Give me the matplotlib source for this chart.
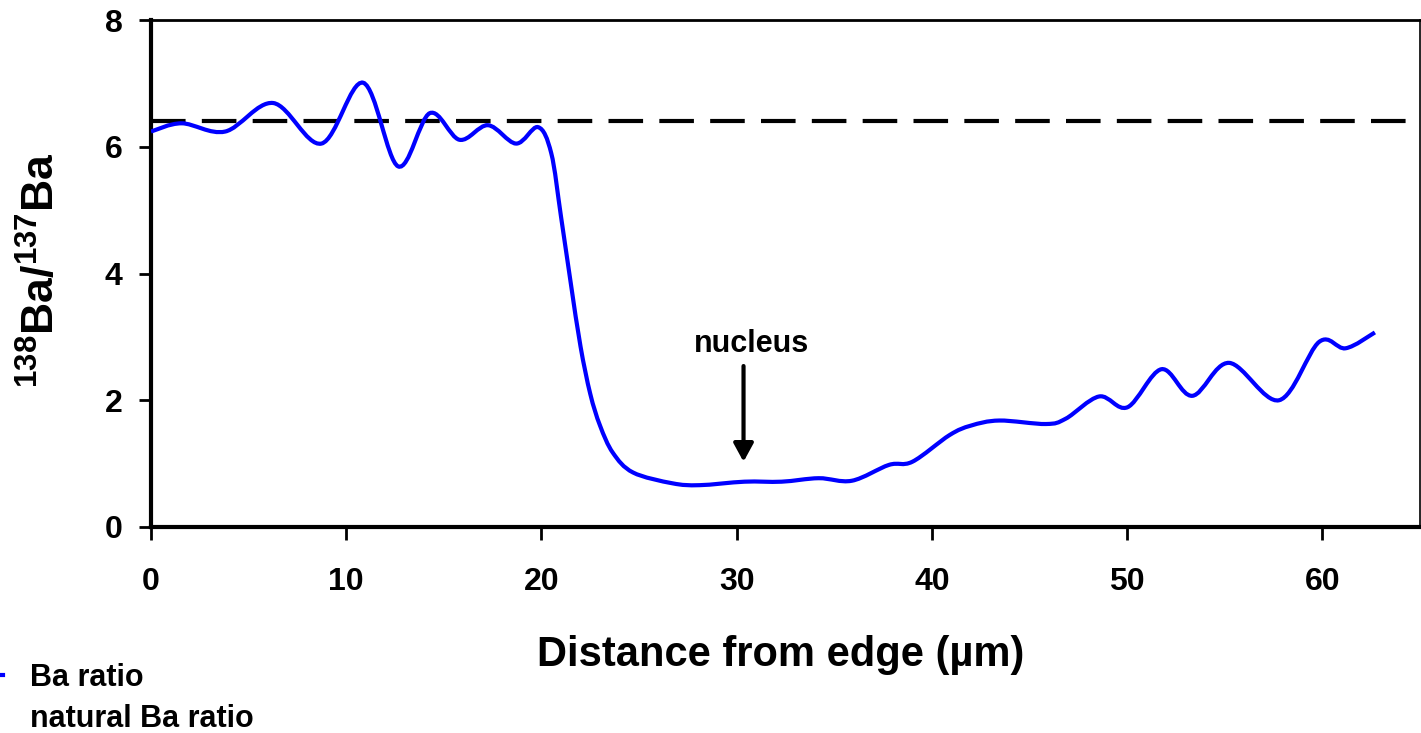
import numpy as np
import matplotlib
matplotlib.use('Agg')
import matplotlib.pyplot as plt
from matplotlib.path import Path
from matplotlib.patches import PathPatch
from matplotlib.lines import Line2D

# ---- data ----
distance = [0.0, 1.57, 3.8, 6.26, 8.73, 10.87, 12.66, 14.28, 15.8, 17.26, 18.7, 19.82,
            20.5, 21.0, 21.5, 22.0, 22.5, 23.0, 23.66, 24.69, 26.7, 28.1,
            30.4, 32.3, 34.2, 35.9, 37.8, 39.0, 40.9, 42.0, 43.45, 45.84, 46.86,
            48.57, 50.02, 51.76, 53.34, 55.22, 57.78, 59.83, 61.19, 62.69]
ba_ratio = [6.24, 6.37, 6.24, 6.69, 6.05, 7.01, 5.69, 6.53, 6.11, 6.34, 6.05, 6.31,
            5.9, 4.9, 3.85, 2.85, 2.1, 1.6, 1.17, 0.86, 0.69, 0.66,
            0.715, 0.715, 0.77, 0.73, 0.98, 1.03, 1.45, 1.60, 1.68, 1.625, 1.71,
            2.06, 1.89, 2.49, 2.07, 2.59, 2.00, 2.92, 2.82, 3.07]
natural_ratio = 6.4
x_ticks = [0, 10, 20, 30, 40, 50, 60]
y_ticks = [0, 2, 4, 6, 8]
series_labels = ['Ba ratio', 'natural Ba ratio']
nucleus_x = 30.35
nucleus_label = 'nucleus'

plt.rcParams['font.family'] = ['Liberation Sans', 'DejaVu Sans']
plt.rcParams['font.weight'] = 'bold'
plt.rcParams['mathtext.fontset'] = 'custom'
plt.rcParams['mathtext.rm'] = 'Liberation Sans:bold'
plt.rcParams['mathtext.bf'] = 'Liberation Sans:bold'
plt.rcParams['mathtext.it'] = 'Liberation Sans:bold'

W, H = 1421, 733
fig = plt.figure(figsize=(W / 100, H / 100), dpi=100)
ax = fig.add_axes([151 / W, 1 - 527 / H, (1420 - 151) / W, (527 - 20) / H])


def smooth_path(x, y):
    pts = np.column_stack([x, y]).astype(float)
    n = len(pts)
    verts = [pts[0]]
    codes = [Path.MOVETO]
    for i in range(n - 1):
        p0 = pts[max(i - 1, 0)]
        p1 = pts[i]
        p2 = pts[i + 1]
        p3 = pts[min(i + 2, n - 1)]
        c1 = p1 + (p2 - p0) / 6.0
        c2 = p2 - (p3 - p1) / 6.0
        verts += [c1, c2, p2]
        codes += [Path.CURVE4] * 3
    return Path(verts, codes)


ax.add_patch(PathPatch(smooth_path(distance, ba_ratio), facecolor='none',
                       edgecolor='#0000ff', lw=3.0, capstyle='butt', zorder=3))
ax.axhline(natural_ratio, color='black', lw=3.0, dashes=(8.3, 3.9), zorder=2)

ax.set_xlim(0, 65)
ax.set_ylim(0, 8)
ax.set_xticks(x_ticks)
ax.set_yticks(y_ticks)
ax.tick_params(axis='both', direction='out', labelsize=23, width=2.0)
ax.tick_params(axis='x', length=9.5, pad=19)
ax.tick_params(axis='y', length=8.5, pad=12)
for lab in ax.get_xticklabels() + ax.get_yticklabels():
    lab.set_fontweight('bold')

ax.spines['left'].set_linewidth(3.0)
ax.spines['bottom'].set_linewidth(3.0)
ax.spines['top'].set_linewidth(2.0)
ax.spines['right'].set_linewidth(1.2)

ax.set_xlabel('Distance from edge (µm)', fontsize=30, fontweight='bold', va='center')
ax.xaxis.set_label_coords((781 - 151) / 1269, (527 - 655) / 507)
ax.set_ylabel(r'$^{\mathbf{138}}\mathbf{Ba/}^{\mathbf{137}}\mathbf{Ba}$', fontsize=32,
              va='center')
ax.yaxis.set_label_coords((42 - 151) / 1269, (527 - 270) / 507)

ax.annotate('', xy=(nucleus_x, 1.03), xytext=(nucleus_x, 2.54),
            arrowprops=dict(arrowstyle='-|>,head_length=1.1,head_width=0.6',
                            color='black', lw=3, shrinkA=0, shrinkB=0))
ax.text(nucleus_x + 0.4, 2.89, nucleus_label, fontsize=22, fontweight='bold',
        ha='center', va='center')

handles = [Line2D([], [], color='#0000ff', lw=3),
           Line2D([], [], color='black', lw=3, dashes=(8.3, 3.9))]
fs_px = 22 * 100 / 72
hl = 2.0
leg = fig.legend(handles, series_labels, loc='upper left', frameon=False,
                 prop={'weight': 'bold', 'size': 22}, handlelength=hl,
                 handletextpad=0.9, borderpad=0, borderaxespad=0, labelspacing=0.35,
                 bbox_to_anchor=((3 - hl * fs_px) / W, 1 - 663 / H))
# the dashed sample ends in a gap (nothing of it is visible at the page edge)
dash_line = leg.get_lines()[1]
xd = np.asarray(dash_line.get_xdata(), dtype=float)
dash_line.set_xdata(np.linspace(xd[0], xd[-1] - 8.0, len(xd)))

fig.savefig('out.png', dpi=100)
